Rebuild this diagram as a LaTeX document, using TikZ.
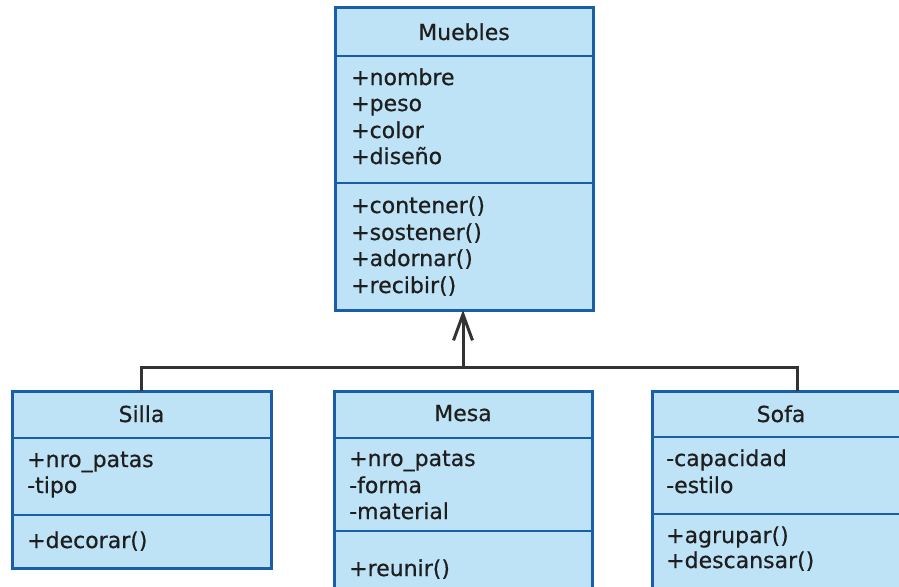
\documentclass[tikz,border=0pt]{standalone}
\usepackage{fontspec}
\setmainfont[FakeBold=0.6]{DejaVu Sans}
\usetikzlibrary{arrows.meta}
\definecolor{boxfill}{HTML}{BEE3F6}
\definecolor{boxline}{HTML}{1A5EA8}
\definecolor{txt}{HTML}{1E1E1E}
\definecolor{conn}{HTML}{333333}
\tikzset{
  sect/.style={draw=boxline, line width=2.2pt, fill=boxfill, inner sep=0pt, outer sep=0pt, anchor=north west},
  lbl/.style={anchor=base west, inner sep=0pt, text=txt, font=\fontsize{22}{26}\selectfont},
  ttl/.style={anchor=base, inner sep=0pt, text=txt, font=\fontsize{22}{26}\selectfont},
  link/.style={draw=conn, line width=3pt},
}
\begin{document}
\begin{tikzpicture}[x=1pt,y=-1pt]
\useasboundingbox (0,0) rectangle (899,586);
\clip (0,0) rectangle (899,586);
% Muebles
\node[sect, minimum width=258pt, minimum height=48pt]  (mh) at (335,8) {};
\node[sect, minimum width=258pt, minimum height=127pt] (ma) at (335,56) {};
\node[sect, minimum width=258pt, minimum height=127pt] (mm) at (335,183) {};
\draw[boxline, line width=3pt] (mh.north west) rectangle (mm.south east);
\node[ttl] (mt) at (464,40) {Muebles};
\node[lbl] (ma1) at (351,85) {+nombre};
\node[lbl] (ma2) at (351,111) {+peso};
\node[lbl] (ma3) at (351,138) {+color};
\node[lbl] (ma4) at (351,164) {+diseño};
\node[lbl] (mm1) at (351,213) {+contener()};
\node[lbl] (mm2) at (351,240) {+sostener()};
\node[lbl] (mm3) at (351,266) {+adornar()};
\node[lbl] (mm4) at (351,293) {+recibir()};
% Silla
\node[sect, minimum width=259pt, minimum height=47pt] (sh) at (12,391) {};
\node[sect, minimum width=259pt, minimum height=77pt] (sa) at (12,438) {};
\node[sect, minimum width=259pt, minimum height=53pt] (sm) at (12,515) {};
\draw[boxline, line width=3pt] (sh.north west) rectangle (sm.south east);
\node[ttl] (st) at (141.5,422) {Silla};
\node[lbl] (sa1) at (27,467) {+nro\_patas};
\node[lbl] (sa2) at (27,493) {-tipo};
\node[lbl] (sm1) at (27,548) {+decorar()};
% Mesa
\node[sect, minimum width=258pt, minimum height=47pt] (eh) at (334,391) {};
\node[sect, minimum width=258pt, minimum height=93pt] (ea) at (334,438) {};
\node[sect, minimum width=258pt, minimum height=90pt] (em) at (334,531) {};
\draw[boxline, line width=3pt] (eh.north west) rectangle (em.south east);
\node[ttl] (et) at (463,421) {Mesa};
\node[lbl] (ea1) at (349,466) {+nro\_patas};
\node[lbl] (ea2) at (349,493) {-forma};
\node[lbl] (ea3) at (349,519) {-material};
\node[lbl] (em1) at (349,576) {+reunir()};
% Sofa
\node[sect, minimum width=290pt, minimum height=46pt] (fh) at (652,391) {};
\node[sect, minimum width=290pt, minimum height=77pt] (fa) at (652,437) {};
\node[sect, minimum width=290pt, minimum height=100pt] (fm) at (652,514) {};
\draw[boxline, line width=3pt] (fh.north west) rectangle (fm.south east);
\node[ttl] (ft) at (781,422) {Sofa};
\node[lbl] (fa1) at (666,466) {-capacidad};
\node[lbl] (fa2) at (666,493) {-estilo};
\node[lbl] (fm1) at (666,543) {+agrupar()};
\node[lbl] (fm2) at (666,568) {+descansar()};
% connectors
\coordinate (j) at (463,367);
\draw[link] ([xshift=129.5pt]sh.north west) |- (j) -| ([xshift=145pt]fh.north west);
\draw[link, -{Straight Barb[length=26pt,width=19pt,line width=3pt]}] (j) -- (j |- mm.south);
\end{tikzpicture}
\end{document}
